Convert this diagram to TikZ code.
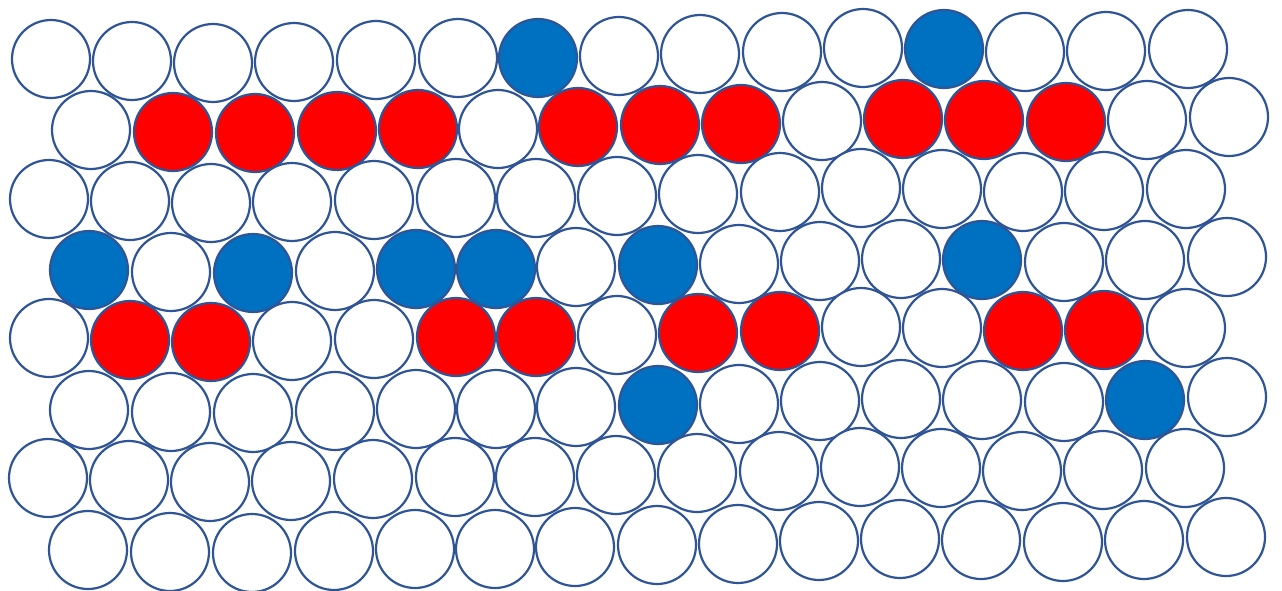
\documentclass[tikz,border=0pt]{standalone}
\begin{document}
\begin{tikzpicture}[x=1pt,y=-1pt,
  disc/.style={circle,inner sep=0pt,minimum size=78pt,line width=2.2pt,draw=outl},
  cw/.style={disc,fill=white},
  cr/.style={disc,fill=redf},
  cb/.style={disc,fill=bluef}]
\definecolor{outl}{HTML}{2F5597}
\definecolor{redf}{HTML}{FF0000}
\definecolor{bluef}{HTML}{0070C0}
\useasboundingbox[fill=white] (0,0) rectangle (1282,591);
\def\oddx{{51,132,213,294,376,458,538,619,700,782,863,944,1025,1106,1188}}
\def\oddy{{59,61,63,62,60,58,58,56,54,52,48,49,52,51,49}}
\def\evenx{{91,173,255,337,418,498,578,660,741,822,903,984,1066,1147,1229}}
\def\eveny{{130,132,133,131,129,129,127,125,124,121,119,120,122,120,117}}
\foreach \r/\p/\dx/\dy/\lst in {
  1/o/0/0/{cw,cw,cw,cw,cw,cw,cb,cw,cw,cw,cw,cb,cw,cw,cw},
  2/e/0/0/{cw,cr,cr,cr,cr,cw,cr,cr,cr,cw,cr,cr,cr,cw,cw},
  3/o/-2/140/{cw,cw,cw,cw,cw,cw,cw,cw,cw,cw,cw,cw,cw,cw,cw},
  4/e/-2/140/{cb,cw,cb,cw,cb,cb,cw,cb,cw,cw,cw,cb,cw,cw,cw},
  5/o/-2/279/{cw,cr,cr,cw,cw,cr,cr,cw,cr,cr,cw,cw,cr,cr,cw},
  6/e/-2/280/{cw,cw,cw,cw,cw,cw,cw,cb,cw,cw,cw,cw,cw,cb,cw},
  7/o/-3/419/{cw,cw,cw,cw,cw,cw,cw,cw,cw,cw,cw,cw,cw,cw,cw},
  8/e/-3/420/{cw,cw,cw,cw,cw,cw,cw,cw,cw,cw,cw,cw,cw,cw,cw}}{
  \foreach \s [count=\c from 0] in \lst {
    \if\p o
      \pgfmathsetmacro\xx{\oddx[\c]+\dx}
      \pgfmathsetmacro\yy{\oddy[\c]+\dy}
    \else
      \pgfmathsetmacro\xx{\evenx[\c]+\dx}
      \pgfmathsetmacro\yy{\eveny[\c]+\dy}
    \fi
    \node[\s] (c-\r-\c) at (\xx,\yy) {};
  }
}
\end{tikzpicture}
\end{document}
